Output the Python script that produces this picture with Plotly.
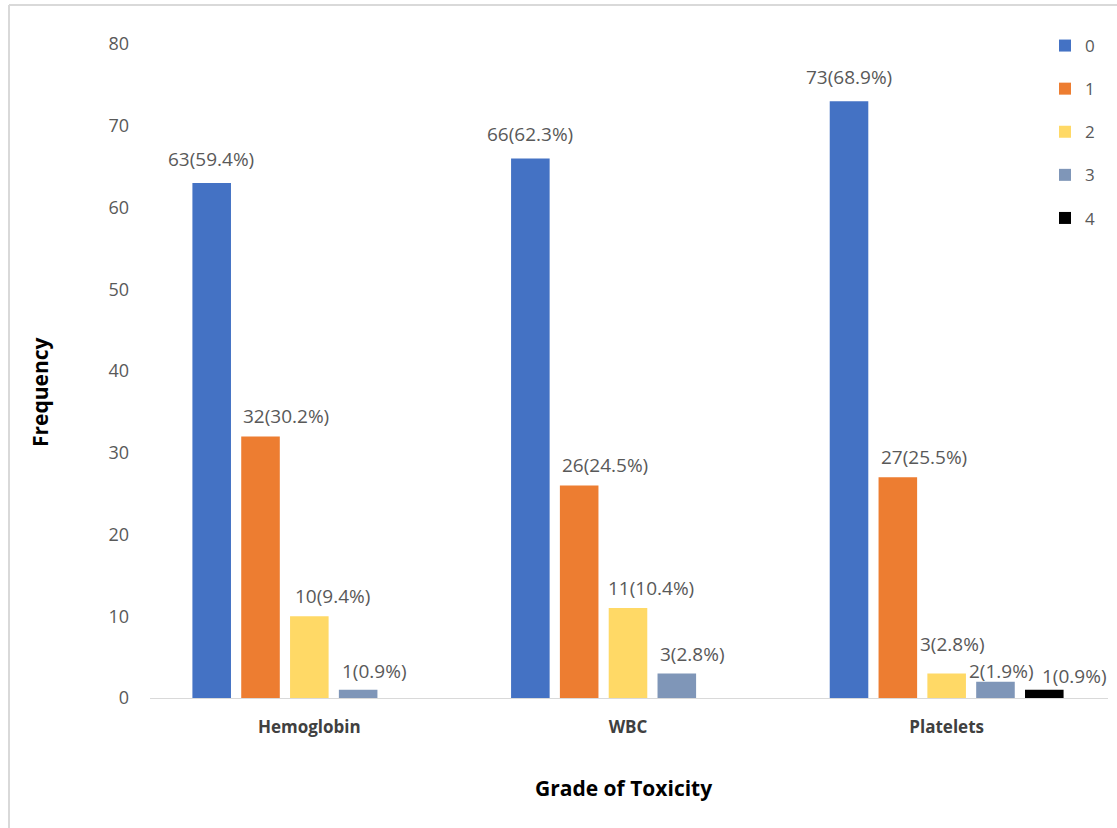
import plotly.graph_objects as go

# ---------------- data ----------------
categories = ["Hemoglobin", "WBC", "Platelets"]
grades = ["0", "1", "2", "3", "4"]
grade0 = [63, 66, 73]
grade1 = [32, 26, 27]
grade2 = [10, 11, 3]
grade3 = [1, 3, 2]
grade4 = [0, 0, 1]
pct0 = [59.4, 62.3, 68.9]
pct1 = [30.2, 24.5, 25.5]
pct2 = [9.4, 10.4, 2.8]
pct3 = [0.9, 2.8, 1.9]
pct4 = [0.0, 0.0, 0.9]
y_ticks = [0, 10, 20, 30, 40, 50, 60, 70, 80]

values = [grade0, grade1, grade2, grade3, grade4]
percents = [pct0, pct1, pct2, pct3, pct4]

# ---------------- style ----------------
colors = ["#4472C4", "#ED7D31", "#FFD966", "#7F96B8", "#000000"]
W, H = 1117, 828
ML, MR, MT, MB = 150, 9, 44, 130
PW, PH = W - ML - MR, H - MT - MB
BARGAP, BARGROUPGAP = 0.234, 0.21
FONT = "Open Sans"
# label offsets (px) per grade, and overrides for crowded labels
grade_dx = [0, 26, 23, 16, 29]
grade_dy = [24, 20, 20, 19, 18]
overrides = {(2, 2): (6, 29), (2, 3): (6, 11), (2, 4): (30, 14)}

fig = go.Figure()
for i, g in enumerate(grades):
    fig.add_trace(go.Bar(
        x=categories, y=values[i], name=g, legendgroup=g,
        marker=dict(color=colors[i], line=dict(width=0)),
        hoverinfo="x+y+name",
    ))

slot = (PW / len(categories)) * (1 - BARGAP) / len(grades)
annotations = []
for i in range(len(grades)):
    for j, cat in enumerate(categories):
        v = values[i][j]
        if v == 0:
            continue
        dx, dy = overrides.get((j, i), (grade_dx[i], grade_dy[i]))
        annotations.append(dict(
            x=cat, y=v, xref="x", yref="y",
            text=f"{v}({percents[i][j]}%)", showarrow=False,
            xanchor="center", yanchor="middle", borderpad=0,
            xshift=(i - (len(grades) - 1) / 2) * slot + dx,
            yshift=dy,
            font=dict(family=FONT, size=19, color="#595959"),
        ))

# axis titles
annotations.append(dict(
    text="<b>Grade of Toxicity</b>", xref="paper", yref="paper",
    x=(623 - ML) / PW, y=(MT + PH - 788) / PH,
    showarrow=False, xanchor="center", yanchor="middle",
    font=dict(family=FONT, size=21, color="#000000"),
))
annotations.append(dict(
    text="<b>Frequency</b>", xref="paper", yref="paper",
    x=(40 - ML) / PW, y=(MT + PH - 392) / PH, textangle=-90,
    showarrow=False, xanchor="center", yanchor="middle",
    font=dict(family=FONT, size=21, color="#000000"),
))

fig.update_layout(
    width=W, height=H,
    margin=dict(l=ML, r=MR, t=MT, b=MB, autoexpand=False),
    paper_bgcolor="white", plot_bgcolor="white",
    barmode="group", bargap=BARGAP, bargroupgap=BARGROUPGAP,
    font=dict(family=FONT, color="#595959"),
    showlegend=True,
    legend=dict(
        x=(1045 - ML) / PW, y=(MT + PH - 28) / PH,
        xanchor="left", yanchor="top",
        bgcolor="rgba(0,0,0,0)",
        font=dict(family=FONT, size=17, color="#595959"),
        tracegroupgap=18, itemwidth=30,
    ),
    xaxis=dict(
        type="category", showgrid=False, zeroline=False,
        showline=True, linecolor="#D9D9D9", linewidth=1,
        ticks="", ticklabelstandoff=14,
        tickfont=dict(family=FONT, size=17, color="#404040", weight="bold"),
    ),
    yaxis=dict(
        range=[0, 80], tickvals=y_ticks, showgrid=False, zeroline=False,
        showline=False, ticks="", ticklabelstandoff=20,
        tickfont=dict(family=FONT, size=18, color="#595959"),
    ),
    annotations=annotations,
    shapes=[
        dict(type="line", xref="paper", yref="paper",
             x0=(9 - ML) / PW, x1=(W - ML) / PW,
             y0=(MT + PH - 5) / PH, y1=(MT + PH - 5) / PH,
             line=dict(color="#D9D9D9", width=2)),
        dict(type="line", xref="paper", yref="paper",
             x0=(9 - ML) / PW, x1=(9 - ML) / PW,
             y0=(MT + PH - 5) / PH, y1=(MT + PH - H) / PH,
             line=dict(color="#D9D9D9", width=2)),
    ],
)

fig.write_html("out.html")
